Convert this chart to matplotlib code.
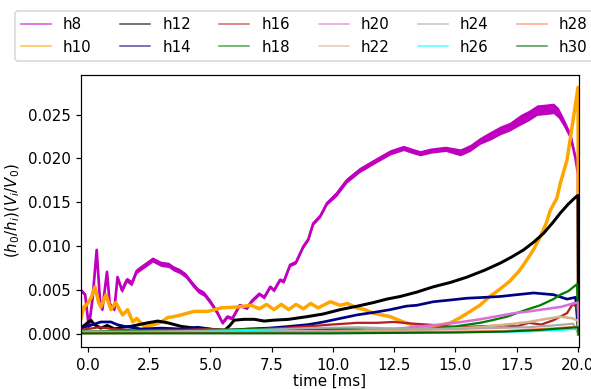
import matplotlib
matplotlib.use("Agg")
import matplotlib.pyplot as plt
import numpy as np

# ---- data (time in ms) ----
h8_t = [-0.27, -0.1, 0.05, 0.2, 0.37, 0.5, 0.6, 0.79, 0.9, 1.09, 1.22, 1.4, 1.6, 1.8,
        2.0, 2.3, 2.65, 3.0, 3.3, 3.5, 3.75, 4.0, 4.25, 4.5, 4.75, 5.0, 5.3, 5.5, 5.7,
        5.9, 6.2, 6.5, 6.7, 7.0, 7.2, 7.45, 7.6, 7.85, 8.0, 8.26, 8.5, 8.8, 9.0, 9.2,
        9.5, 9.76, 10.16, 10.57, 11.1, 11.65, 12.34, 12.88, 13.2, 13.56, 14.0, 14.6,
        15.2, 15.6, 16.0, 16.5, 16.83, 17.2, 17.65, 18.0, 18.33, 18.7, 19.0, 19.2,
        19.4, 19.7, 19.9, 20.0, 20.02]
h8_v = [0.0050, 0.0045, 0.0008, 0.0040, 0.0096, 0.0040, 0.0028, 0.0071, 0.0035, 0.0028,
        0.0065, 0.0050, 0.0062, 0.0058, 0.0072, 0.0078, 0.0085, 0.0080, 0.0079, 0.0075,
        0.0072, 0.0067, 0.0058, 0.0050, 0.0046, 0.0037, 0.0024, 0.0013, 0.0020, 0.0018,
        0.0033, 0.0030, 0.0038, 0.0046, 0.0042, 0.0054, 0.0050, 0.0062, 0.0060, 0.0079,
        0.0082, 0.0100, 0.0108, 0.0126, 0.0135, 0.0149, 0.0160, 0.0175, 0.0187, 0.0196,
        0.0207, 0.0212, 0.0209, 0.0206, 0.0209, 0.0211, 0.0207, 0.0212, 0.0220, 0.0227,
        0.0232, 0.0236, 0.0244, 0.0249, 0.0255, 0.0256, 0.0257, 0.0252, 0.0242, 0.0225,
        0.0200, 0.0182, 0.0]
# half thickness of the noisy magenta band
h8_band = [0.0002, 0.0002, 0.0002, 0.0002, 0.0002, 0.0002, 0.0002, 0.0002, 0.0002, 0.0002,
           0.0002, 0.0003, 0.0003, 0.0003, 0.0003, 0.0003, 0.0003, 0.0003, 0.0003, 0.0003,
           0.0003, 0.0003, 0.0003, 0.0003, 0.0003, 0.0003, 0.0003, 0.0002, 0.0002, 0.0002,
           0.0002, 0.0002, 0.0002, 0.0002, 0.0002, 0.0002, 0.0002, 0.0002, 0.0002, 0.0002,
           0.0002, 0.0002, 0.0002, 0.0002, 0.0002, 0.0002, 0.0003, 0.0003, 0.0003, 0.0003,
           0.0003, 0.0003, 0.0003, 0.0003, 0.0003, 0.0003, 0.0004, 0.0004, 0.0004, 0.0005,
           0.0005, 0.0005, 0.0006, 0.0006, 0.0006, 0.0006, 0.0006, 0.0006, 0.0005, 0.0004,
           0.0003, 0.0002, 0.0]

h10_t = [-0.27, -0.15, 0.0, 0.15, 0.3, 0.45, 0.54, 0.75, 0.95, 1.15, 1.3, 1.43, 1.63,
         1.84, 2.0, 2.31, 2.72, 3.0, 3.27, 3.5, 3.81, 4.34, 4.9, 5.44, 6.12, 6.67, 7.0,
         7.3, 7.6, 7.9, 8.2, 8.5, 8.8, 9.1, 9.4, 9.9, 10.3, 10.6, 10.98, 11.3, 11.65,
         12.34, 12.88, 13.43, 13.8, 14.2, 14.8, 15.2, 15.6, 16.0, 16.4, 16.8, 17.2, 17.6,
         17.9, 18.2, 18.46, 18.7, 18.87, 19.14, 19.28, 19.55, 19.8, 20.0, 20.02]
h10_v = [0.0018, 0.0031, 0.0035, 0.0042, 0.0054, 0.0036, 0.0031, 0.0045, 0.0028, 0.0036,
         0.0028, 0.0022, 0.0028, 0.0014, 0.0018, 0.0009, 0.0011, 0.0014, 0.0019, 0.0020,
         0.0022, 0.0026, 0.0026, 0.0030, 0.0031, 0.0033, 0.0029, 0.0034, 0.0028, 0.0034,
         0.0028, 0.0034, 0.0029, 0.0035, 0.0030, 0.0037, 0.0033, 0.0035, 0.0030, 0.0028,
         0.0024, 0.0020, 0.0014, 0.0009, 0.0007, 0.0009, 0.0013, 0.0019, 0.0026, 0.0033,
         0.0043, 0.0051, 0.0060, 0.0072, 0.0084, 0.0097, 0.0111, 0.0126, 0.0141, 0.0155,
         0.0172, 0.0198, 0.0244, 0.0281, 0.0]

h12_t = [-0.27, 0.13, 0.27, 0.54, 0.8, 1.1, 1.4, 1.77, 2.1, 2.45, 2.86, 3.27, 3.81, 4.35,
         4.8, 5.17, 5.57, 5.8, 5.98, 6.39, 6.8, 7.2, 7.57, 8.2, 8.94, 9.6, 10.3, 11.0,
         11.65, 12.2, 12.75, 13.43, 14.1, 14.8, 15.47, 16.2, 16.83, 17.3, 17.78, 18.2,
         18.6, 19.0, 19.28, 19.6, 19.9, 20.0, 20.02]
h12_v = [0.0007, 0.0016, 0.0011, 0.0007, 0.0010, 0.0006, 0.0008, 0.0009, 0.0011, 0.0013,
         0.0015, 0.0013, 0.0009, 0.0007, 0.0006, 0.0005, 0.0004, 0.0010, 0.0016, 0.0017,
         0.0017, 0.0015, 0.0016, 0.0017, 0.0020, 0.0023, 0.0028, 0.0032, 0.0036, 0.0040,
         0.0043, 0.0048, 0.0054, 0.0059, 0.0065, 0.0073, 0.0081, 0.0088, 0.0096, 0.0105,
         0.0115, 0.0128, 0.0138, 0.0148, 0.0156, 0.0158, 0.0]

h14_t = [-0.27, 0.1, 0.54, 0.95, 1.2, 1.5, 2.18, 3.0, 3.8, 4.49, 5.0, 5.57, 6.53, 7.4,
         8.26, 9.0, 9.62, 10.3, 10.98, 11.7, 12.34, 13.0, 13.43, 14.1, 14.8, 15.47, 16.2,
         16.83, 17.5, 18.19, 18.6, 19.0, 19.55, 19.9, 20.02]
h14_v = [0.0007, 0.0010, 0.0014, 0.0014, 0.0011, 0.0009, 0.0006, 0.0007, 0.0006, 0.0008,
         0.0006, 0.0004, 0.0006, 0.0007, 0.0009, 0.0011, 0.0014, 0.0018, 0.0022, 0.0025,
         0.0028, 0.0032, 0.0033, 0.0037, 0.0039, 0.0041, 0.0042, 0.0043, 0.0045, 0.0047,
         0.0046, 0.0045, 0.0040, 0.0042, 0.0]

h16_t = [-0.27, 0.5, 1.0, 2.0, 3.0, 4.0, 5.0, 5.85, 7.0, 7.9, 9.0, 9.93, 11.0, 11.8, 12.5,
         13.3, 14.4, 15.0, 16.0, 17.0, 17.5, 18.0, 18.5, 19.0, 19.55, 19.8, 20.0, 20.02]
h16_v = [0.0005, 0.0008, 0.0006, 0.0004, 0.0005, 0.0005, 0.0006, 0.0005, 0.0006, 0.0007,
         0.0009, 0.0011, 0.0013, 0.0013, 0.0014, 0.0012, 0.0010, 0.0008, 0.0009, 0.0010,
         0.0009, 0.0013, 0.0011, 0.0016, 0.0024, 0.0035, 0.0028, 0.0]

h18_t = [-0.27, 2.0, 5.0, 8.0, 10.0, 12.0, 14.0, 15.0, 16.0, 16.5, 17.1, 17.8, 18.46,
         19.0, 19.28, 19.6, 19.96, 20.02]
h18_v = [0.0003, 0.0004, 0.0005, 0.0006, 0.0006, 0.0005, 0.0006, 0.0009, 0.0013, 0.0016,
         0.0020, 0.0027, 0.0033, 0.0040, 0.0045, 0.0049, 0.0057, 0.0]

h20_t = [-0.27, 3.0, 6.0, 9.0, 11.0, 12.5, 14.0, 15.0, 16.0, 17.0, 17.4, 18.0, 18.5,
         19.28, 19.8, 20.0, 20.02]
h20_v = [0.0002, 0.0002, 0.0003, 0.0003, 0.0004, 0.0006, 0.0010, 0.0013, 0.0017, 0.0022,
         0.0024, 0.0026, 0.0028, 0.0031, 0.0035, 0.0036, 0.0]

h22_t = [-0.27, 5.0, 10.0, 13.0, 14.5, 16.0, 17.0, 17.4, 18.0, 18.6, 19.28, 19.8, 20.0, 20.02]
h22_v = [0.0001, 0.0002, 0.0003, 0.0004, 0.0006, 0.0008, 0.0011, 0.0012, 0.0014, 0.0017,
         0.0020, 0.0018, 0.0015, 0.0]

h24_t = [-0.27, 2.0, 5.0, 7.0, 9.0, 11.0, 12.0, 13.5, 15.0, 16.5, 18.0, 19.0, 19.8, 20.02]
h24_v = [0.0003, 0.0003, 0.0004, 0.0005, 0.0007, 0.0008, 0.0007, 0.0006, 0.0006, 0.0007,
         0.0008, 0.0010, 0.0012, 0.0]

h26_t = [-0.27, 3.0, 6.5, 8.0, 10.0, 12.0, 15.0, 18.0, 19.5, 20.0, 20.02]
h26_v = [0.0001, 0.0002, 0.0004, 0.0003, 0.0002, 0.0002, 0.0002, 0.0003, 0.0005, 0.0006, 0.0]

h28_t = [-0.27, 5.0, 10.0, 14.0, 17.0, 19.0, 20.0, 20.02]
h28_v = [0.0002, 0.0002, 0.0003, 0.0003, 0.0004, 0.0007, 0.0009, 0.0]

h30_t = [-0.27, 10.0, 15.0, 17.0, 18.5, 19.5, 20.0, 20.02]
h30_v = [0.0001, 0.0001, 0.0002, 0.0003, 0.0005, 0.0007, 0.0008, 0.0]

labels = ["h8", "h10", "h12", "h14", "h16", "h18",
          "h20", "h22", "h24", "h26", "h28", "h30"]
series = [(h8_t, h8_v), (h10_t, h10_v), (h12_t, h12_v), (h14_t, h14_v),
          (h16_t, h16_v), (h18_t, h18_v), (h20_t, h20_v), (h22_t, h22_v),
          (h24_t, h24_v), (h26_t, h26_v), (h28_t, h28_v), (h30_t, h30_v)]
colors = ["m", "orange", "black", "navy", "firebrick", "green",
          "orchid", "tan", "darkgray", "cyan", "coral", "darkgreen"]
widths = [1.8, 2.3, 2.0, 1.8, 1.5, 1.5, 1.7, 1.7, 1.4, 1.1, 1.1, 1.4]

# original looks like a 10pt figure saved at ~108 dpi
DPI = 108
fig = plt.figure(figsize=(591 / DPI, 389 / DPI), dpi=DPI)
ax = fig.add_axes([81 / 591, 42 / 389, 498 / 591, 272 / 389])

for i, ((t, v), lab) in enumerate(zip(series, labels)):
    ax.plot(t, v, color=colors[i], lw=widths[i], label=lab)
    if i == 0:
        lo = np.array(v) - np.array(h8_band)
        hi = np.array(v) + np.array(h8_band)
        ax.fill_between(t, lo, hi, color=colors[i], lw=0)

ax.set_xlim(-0.27, 20.04)
ax.set_ylim(-0.00145, 0.0295)
ax.set_xticks([0, 2.5, 5, 7.5, 10, 12.5, 15, 17.5, 20])
ax.set_yticks([0, 0.005, 0.01, 0.015, 0.02, 0.025])
ax.yaxis.set_major_formatter(matplotlib.ticker.FormatStrFormatter("%.3f"))
ax.set_xlabel("time [ms]", labelpad=1)
ax.set_ylabel(r"$(h_0/h_i)(V_i/V_0)$")

handles, labs = ax.get_legend_handles_labels()
leg = fig.legend(handles, labs, ncol=6, loc="upper left", columnspacing=1.9,
                 bbox_to_anchor=(15 / 591, 1 - 11 / 389), borderaxespad=0)
for line in leg.get_lines():
    line.set_linewidth(1.0)
    line.set_alpha(0.7)

fig.savefig("out.png", dpi=DPI)
